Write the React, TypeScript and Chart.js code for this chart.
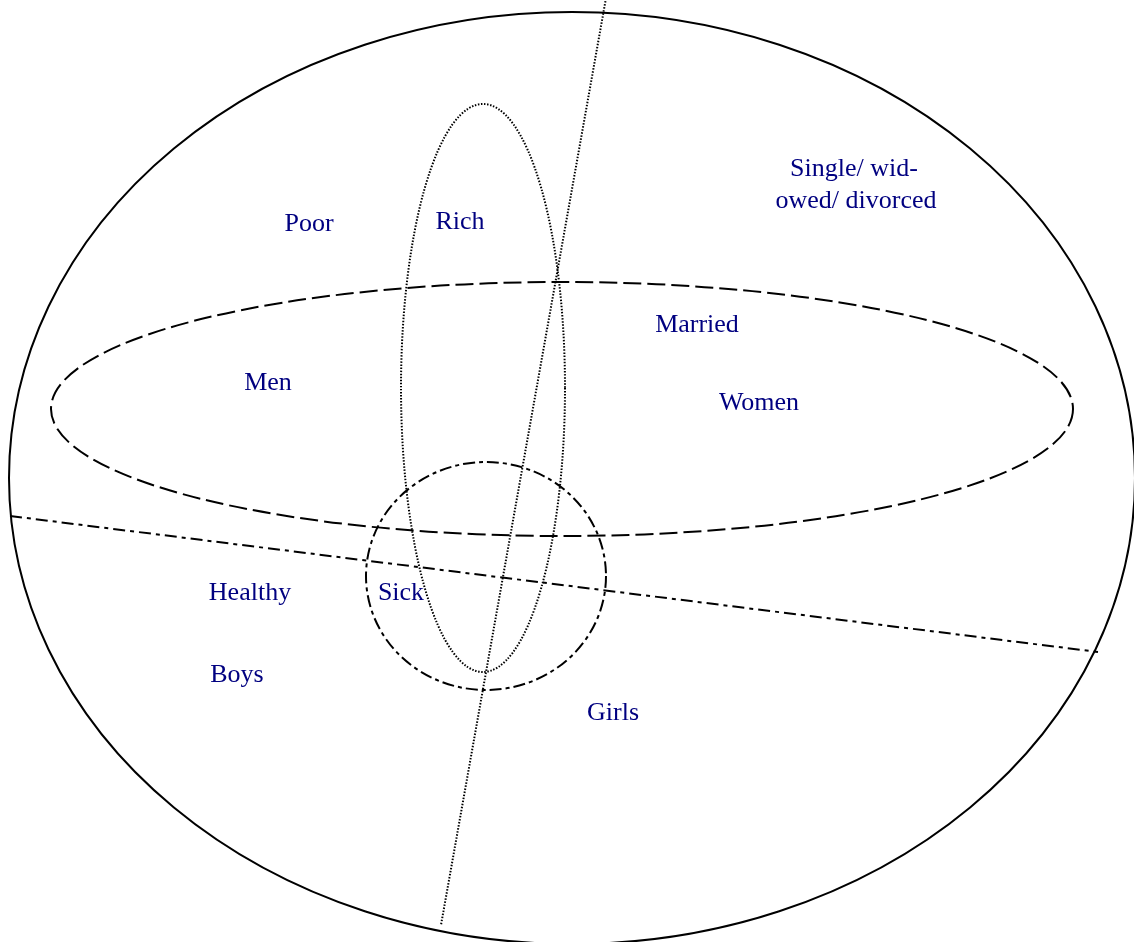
import React, { useEffect, useRef } from "react";
import { Chart, registerables } from "chart.js";

Chart.register(...registerables);

// Diagram coordinate space (x to the right, y downward)
const X_MIN = 0;
const X_MAX = 1134;
const Y_MIN = 0;
const Y_MAX = 942;

// Ellipses: outer world, rich (dotted), married (dashed), sick (dash-dot)
const ellipseNames = ["World", "Rich", "Married", "Sick"];
const ellipseCx = [572, 483, 562, 486];
const ellipseCy = [478, 388, 409, 576];
const ellipseRx = [563, 82, 511, 120];
const ellipseRy = [466, 284, 127, 114];
const ellipseDash: number[][] = [[], [1.5, 1.6], [18, 6], [12, 4, 4, 4]];
const ellipseWidth = [2, 2, 2, 2];

// Straight dividers: boys/girls (dotted), men/women (dash-dot)
const lineNames = ["Boys | Girls", "Men | Women"];
const lineX1 = [606, 10];
const lineY1 = [-2, 516];
const lineX2 = [441, 1098];
const lineY2 = [925, 652];
const lineDash: number[][] = [[1.5, 1.6], [12, 5, 4, 5]];
const lineWidth = [2, 2];

// Text labels
const labelTexts = [
  "Poor",
  "Rich",
  "Single/ wid-",
  "owed/ divorced",
  "Married",
  "Men",
  "Women",
  "Healthy",
  "Sick",
  "Boys",
  "Girls",
];
const labelX = [309, 460, 854, 856, 697, 268, 759, 250, 401, 237, 613];
const labelY = [224, 222, 169, 201, 325, 383, 403, 593, 593, 675, 713];

const LABEL_COLOR = "#000080";
const LABEL_FONT = '26px "Liberation Serif", "DejaVu Serif", serif';

const ellipsePlugin = {
  id: "ellipses",
  afterDatasetsDraw(chart: any) {
    const { ctx, scales } = chart;
    const xs = scales.x;
    const ys = scales.y;
    ctx.save();
    for (let i = 0; i < ellipseNames.length; i++) {
      const cx = xs.getPixelForValue(ellipseCx[i]);
      const cy = ys.getPixelForValue(ellipseCy[i]);
      const rx = Math.abs(xs.getPixelForValue(ellipseCx[i] + ellipseRx[i]) - cx);
      const ry = Math.abs(ys.getPixelForValue(ellipseCy[i] + ellipseRy[i]) - cy);
      ctx.beginPath();
      ctx.setLineDash(ellipseDash[i]);
      ctx.lineWidth = ellipseWidth[i];
      ctx.strokeStyle = "#000000";
      ctx.ellipse(cx, cy, rx, ry, 0, 0, Math.PI * 2);
      ctx.stroke();
    }
    ctx.setLineDash([]);
    ctx.fillStyle = LABEL_COLOR;
    ctx.font = LABEL_FONT;
    ctx.textAlign = "center";
    ctx.textBaseline = "middle";
    for (let i = 0; i < labelTexts.length; i++) {
      ctx.fillText(
        labelTexts[i],
        xs.getPixelForValue(labelX[i]),
        ys.getPixelForValue(labelY[i])
      );
    }
    ctx.restore();
  },
};

export default function App() {
  const canvasRef = useRef<HTMLCanvasElement | null>(null);

  useEffect(() => {
    if (!canvasRef.current) return;
    const datasets = lineNames.map((name, i) => ({
      label: name,
      data: [
        { x: lineX1[i], y: lineY1[i] },
        { x: lineX2[i], y: lineY2[i] },
      ],
      showLine: true,
      borderColor: "#000000",
      borderWidth: lineWidth[i],
      borderDash: lineDash[i],
      pointRadius: 0,
      pointHoverRadius: 0,
      fill: false,
      tension: 0,
    }));
    const chart = new Chart(canvasRef.current, {
      type: "scatter",
      data: { datasets },
      options: {
        animation: false,
        responsive: false,
        maintainAspectRatio: false,
        layout: { padding: 0 },
        clip: false,
        plugins: {
          legend: { display: false },
          tooltip: { enabled: false },
          title: { display: false },
        },
        scales: {
          x: { type: "linear", min: X_MIN, max: X_MAX, display: false },
          y: { type: "linear", min: Y_MIN, max: Y_MAX, reverse: true, display: false },
        },
      } as any,
      plugins: [ellipsePlugin],
    });
    return () => chart.destroy();
  }, []);

  return (
    <div
      style={{
        position: "fixed",
        left: 0,
        top: 0,
        width: 1134,
        height: 942,
        background: "#ffffff",
      }}
    >
      <canvas ref={canvasRef} width={1134} height={942} />
    </div>
  );
}
